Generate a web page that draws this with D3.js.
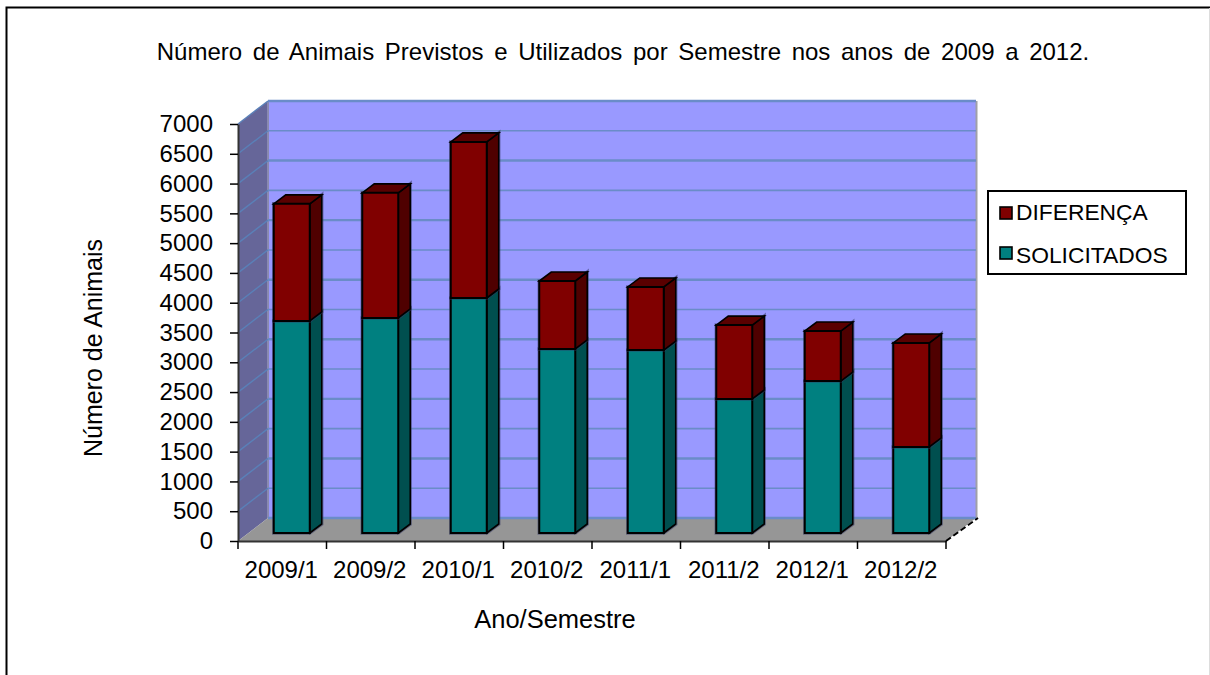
<!DOCTYPE html>
<html>
<head>
<meta charset="utf-8">
<script src="https://cdn.jsdelivr.net/npm/d3@7"></script>
<style>
	html, body { margin: 0; padding: 0; background: #fff; }
	svg { display: block; }
	text { font-family: "Liberation Sans", Arial, sans-serif; fill: #000; }
</style>
</head>
<body>
<script>
var semestres = ["2009/1", "2009/2", "2010/1", "2010/2", "2011/1", "2011/2", "2012/1", "2012/2"];
var solicitados = [3560, 3610, 3945, 3090, 3070, 2250, 2550, 1445];
var diferenca = [1965, 2100, 2620, 1140, 1060, 1240, 840, 1745];
var yTicks = d3.range(0, 7001, 500);

var W = 1210, H = 675;

var x = d3.scaleBand().domain(semestres).range([238, 946]);
var y = d3.scaleLinear().domain([0, 7000]).range([541, 124]);

// depth of the fake 3d box, and of each bar
var depth = { dx: 30, dy: -23 };
var barDepth = { dx: 12, dy: -9 };
var barW = 36;
var barShift = { x: 9.5, y: -8 };

var svg = d3.select("body").append("svg").attr("width", W).attr("height", H);

function poly(pts, fill, stroke, sw) {
	return svg.append("polygon")
		.attr("points", pts.map(function(p) { return p.join(","); }).join(" "))
		.attr("fill", fill)
		.attr("stroke", stroke || "none")
		.attr("stroke-width", sw || 0);
}

// outer frame, no right edge in the picture
svg.append("path")
	.attr("d", "M6.5," + H + "V7.5H" + W)
	.attr("fill", "none").attr("stroke", "#000").attr("stroke-width", 2);
svg.append("line")
	.attr("x1", 1209.5).attr("x2", 1209.5).attr("y1", 8).attr("y2", H)
	.attr("stroke", "#ddd");

var x0 = x.range()[0], x1 = x.range()[1];
var y0 = y(0), yTop = y(7000);

// walls and floor
poly([[x0 + depth.dx, y0 + depth.dy], [x1 + depth.dx, y0 + depth.dy], [x1 + depth.dx, yTop + depth.dy], [x0 + depth.dx, yTop + depth.dy]], "#9999ff");
poly([[x0, y0], [x0 + depth.dx, y0 + depth.dy], [x0 + depth.dx, yTop + depth.dy], [x0, yTop]], "#666699");
poly([[x0, y0], [x1, y0], [x1 + depth.dx, y0 + depth.dy], [x0 + depth.dx, y0 + depth.dy]], "#969696");

// wall edges
svg.append("line").attr("x1", x1 + depth.dx + 0.5).attr("x2", x1 + depth.dx + 0.5)
	.attr("y1", yTop + depth.dy).attr("y2", y0 + depth.dy)
	.attr("stroke", "#a0a0a8").attr("stroke-width", 2);
svg.append("line").attr("x1", x0 + depth.dx).attr("x2", x0 + depth.dx)
	.attr("y1", yTop + depth.dy).attr("y2", y0 + depth.dy)
	.attr("stroke", "#8a8ab0").attr("stroke-width", 2);

// grid lines, the odd thicknesses come from the downscaled original
yTicks.forEach(function(t, i) {
	var yy = y(t);
	var sw = i % 2 == 0 ? 2.4 : 1.6;
	
	svg.append("line")
		.attr("x1", x0 + depth.dx).attr("x2", x1 + depth.dx)
		.attr("y1", yy + depth.dy).attr("y2", yy + depth.dy)
		.attr("stroke", "#6a8cc8").attr("stroke-width", sw);
		
	if (t > 0) {
		svg.append("line")
			.attr("x1", x0).attr("x2", x0 + depth.dx)
			.attr("y1", yy).attr("y2", yy + depth.dy)
			.attr("stroke", "#5a80b8").attr("stroke-width", 1.4);
	}
});

// bars
function DrawSegment(name, from, to, front, side, top) {
	var bx = x(name) + barShift.x + (x.bandwidth() - barW) / 2;
	var yA = y(from) + barShift.y;
	var yB = y(to) + barShift.y;
	
	// soft halo of the original
	poly([[bx, yA], [bx + barW, yA], [bx + barW + barDepth.dx, yA + barDepth.dy], [bx + barW + barDepth.dx, yB + barDepth.dy], [bx + barW, yB], [bx, yB]], "none", "#333a66", 3.5).attr("opacity", 0.5);
	
	poly([[bx + barW, yA], [bx + barW + barDepth.dx, yA + barDepth.dy], [bx + barW + barDepth.dx, yB + barDepth.dy], [bx + barW, yB]], side, "#000", 1.6);
	
	if (top) poly([[bx, yB], [bx + barW, yB], [bx + barW + barDepth.dx, yB + barDepth.dy], [bx + barDepth.dx, yB + barDepth.dy]], top, "#000", 1.6);
	
	poly([[bx, yA], [bx + barW, yA], [bx + barW, yB], [bx, yB]], front, "#000", 2);
}

semestres.forEach(function(s, i) {
	DrawSegment(s, 0, solicitados[i], "#008080", "#004f4f");
	DrawSegment(s, solicitados[i], solicitados[i] + diferenca[i], "#800000", "#4f0000", "#5a0000");
});

// axes
var axisY = d3.axisLeft(y).tickValues(yTicks).tickFormat(d3.format("d")).tickSize(8).tickSizeOuter(0).tickPadding(17);
var gy = svg.append("g").attr("transform", "translate(" + x0 + ",0)").call(axisY);

var axisX = d3.axisBottom(x).tickSize(0).tickPadding(20);
var gx = svg.append("g").attr("transform", "translate(0," + y0 + ")").call(axisX);

[gy, gx].forEach(function(g) {
	g.selectAll("path.domain").attr("stroke", "#333").attr("stroke-width", 2);
	g.selectAll("line").attr("stroke", "#000").attr("stroke-width", 1.5);
	g.selectAll("text").style("font-size", "24px").attr("fill", "#000");
});
gx.selectAll("text").attr("dx", -1);

// x ticks sit between the categories
var xEdges = semestres.map(function(s) { return x(s); }).concat([x1]);
svg.selectAll(".xedge").data(xEdges).enter().append("line")
	.attr("class", "xedge")
	.attr("x1", function(d) { return d; }).attr("x2", function(d) { return d; })
	.attr("y1", y0).attr("y2", y0 + 8)
	.attr("stroke", "#000").attr("stroke-width", 1.5);

// dashed edge of the floor
svg.append("line")
	.attr("x1", x1).attr("y1", y0).attr("x2", x1 + depth.dx + 2).attr("y2", y0 + depth.dy)
	.attr("stroke", "#000").attr("stroke-width", 2).attr("stroke-dasharray", "6 3");

// titles
svg.append("text").attr("x", 623).attr("y", 60).attr("text-anchor", "middle")
	.style("font-size", "24px").style("word-spacing", "4px")
	.text("Número de Animais Previstos e Utilizados por Semestre nos anos de 2009 a 2012.");
svg.append("text").attr("x", 555).attr("y", 628).attr("text-anchor", "middle")
	.style("font-size", "25.5px").text("Ano/Semestre");
svg.append("text").attr("transform", "translate(102,348) rotate(-90)").attr("text-anchor", "middle")
	.style("font-size", "25px").text("Número de Animais");

// legend
var legend = svg.append("g");
legend.append("rect").attr("x", 988).attr("y", 191).attr("width", 198).attr("height", 83)
	.attr("fill", "#fff").attr("stroke", "#000").attr("stroke-width", 2);

var legendNames = ["DIFERENÇA", "SOLICITADOS"];
var legendColors = ["#800000", "#008080"];

legendNames.forEach(function(n, i) {
	var ly = 207 + i * 40;
	
	legend.append("rect").attr("x", 1000).attr("y", ly).attr("width", 12).attr("height", 12)
		.attr("fill", legendColors[i]).attr("stroke", "#000").attr("stroke-width", 1.6);
	legend.append("text").attr("x", 1016).attr("y", ly + 13 + i * 2.5)
		.style("font-size", "22.8px").text(n);
});
</script>
</body>
</html>
